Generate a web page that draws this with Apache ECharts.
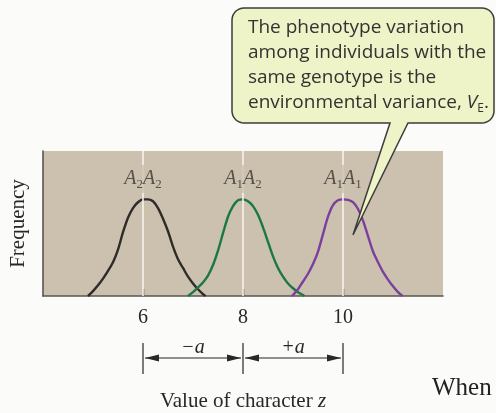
<!DOCTYPE html>
<html>
<head>
<meta charset="utf-8">
<script src="https://cdn.jsdelivr.net/npm/echarts@6/dist/echarts.min.js"></script>
<style>
  html, body { margin: 0; padding: 0; background: #fbfbfa; }
  #chart { width: 496px; height: 413px; }
</style>
</head>
<body>
<div id="chart"></div>
<script>
// Tick values on the character axis
const xTicks = [6, 8, 10];
const tickLabels = ['6', '8', '10'];

// Genotype names (allele, subscript, allele, subscript)
const genotypes = [['A', '2', 'A', '2'], ['A', '1', 'A', '2'], ['A', '1', 'A', '1']];
const genotypeMeans = [6, 8, 10];

// Frequency curves, [value of z, relative frequency]
const curveA2A2 = [[4.9, 0], [5.0, 0.05], [5.1, 0.11], [5.2, 0.18], [5.3, 0.26], [5.4, 0.35], [5.5, 0.48], [5.6, 0.66], [5.7, 0.81], [5.8, 0.91], [5.9, 0.97], [6.0, 1.0], [6.1, 1.0], [6.2, 0.98], [6.3, 0.91], [6.4, 0.8], [6.5, 0.67], [6.6, 0.51], [6.7, 0.38], [6.8, 0.29], [6.9, 0.2], [7.0, 0.13], [7.1, 0.07], [7.2, 0.02], [7.25, 0]];
const curveA1A2 = [[6.9, 0], [7.0, 0.04], [7.1, 0.09], [7.2, 0.14], [7.3, 0.21], [7.4, 0.32], [7.5, 0.47], [7.6, 0.65], [7.7, 0.82], [7.8, 0.93], [7.9, 0.99], [8.0, 1.0], [8.1, 0.98], [8.2, 0.93], [8.3, 0.84], [8.4, 0.71], [8.5, 0.56], [8.6, 0.41], [8.7, 0.29], [8.8, 0.2], [8.9, 0.13], [9.0, 0.08], [9.1, 0.04], [9.2, 0.01], [9.23, 0]];
const curveA1A1 = [[8.98, 0], [9.1, 0.07], [9.2, 0.15], [9.3, 0.23], [9.4, 0.33], [9.5, 0.46], [9.6, 0.64], [9.7, 0.82], [9.8, 0.94], [9.9, 0.99], [10.0, 1.0], [10.1, 0.995], [10.2, 0.97], [10.3, 0.9], [10.4, 0.78], [10.5, 0.62], [10.6, 0.46], [10.7, 0.35], [10.8, 0.25], [10.9, 0.17], [11.0, 0.1], [11.1, 0.04], [11.19, 0]];

const curves = [curveA2A2, curveA1A2, curveA1A1];
const curveColors = ['#2e2b29', '#1c7842', '#7b3f9e'];

const chart = echarts.init(document.getElementById('chart'));

const tan = '#cbc1ae';
const ink = '#2a2725';

function genotypeText(g) {
  return '{a|' + g[0] + '}{s|' + g[1] + '}{a|' + g[2] + '}{s|' + g[3] + '}';
}

const series = curves.map((c, i) => ({
  type: 'line',
  data: c,
  smooth: 0.3,
  symbol: 'none',
  clip: true,
  z: 4,
  lineStyle: { color: curveColors[i], width: 2.4 }
}));

// white reference lines at the genotype means
series.push({
  type: 'line',
  data: [],
  markLine: {
    silent: true,
    symbol: 'none',
    label: { show: false },
    lineStyle: { color: '#f6f3ec', width: 1.6, type: 'solid' },
    data: genotypeMeans.map(m => [{ coord: [m, 0] }, { coord: [m, 1.5] }])
  },
  z: 2
});

// genotype labels above each curve
series.push({
  type: 'scatter',
  symbolSize: 1,
  itemStyle: { color: 'rgba(0,0,0,0)' },
  z: 5,
  data: genotypeMeans.map((m, i) => ({ value: [m, 1.21], name: genotypeText(genotypes[i]) })),
  label: {
    show: true,
    position: 'inside',
    formatter: p => p.name,
    backgroundColor: tan,
    padding: [2, 3, 2, 3],
    rich: {
      a: { fontFamily: 'Liberation Serif', fontStyle: 'italic', fontSize: 20, color: '#3a3532', lineHeight: 24, verticalAlign: 'middle' },
      s: { fontFamily: 'Liberation Serif', fontSize: 13, color: '#3a3532', lineHeight: 24, verticalAlign: 'bottom' }
    }
  }
});

chart.setOption({
  backgroundColor: '#fbfbfa',
  animation: false,
  grid: { left: 40, top: 151, right: 53, bottom: 110, show: true, backgroundColor: tan, borderWidth: 0 },
  xAxis: {
    type: 'value',
    min: 4,
    max: 12,
    interval: 2,
    axisLine: { show: true, onZero: false, lineStyle: { color: '#5a5652', width: 1.6 } },
    axisTick: { show: true, inside: true, length: 7, customValues: xTicks, lineStyle: { color: '#4a4643', width: 1.4 } },
    axisLabel: {
      customValues: xTicks,
      formatter: v => tickLabels[xTicks.indexOf(v)] || '',
      fontFamily: 'Liberation Serif', fontSize: 20, color: ink, margin: 12
    },
    splitLine: { show: false },
    name: '{t|Value of character }{z|z}',
    nameLocation: 'middle',
    nameGap: 95,
    nameTextStyle: {
      rich: {
        t: { fontFamily: 'Liberation Serif', fontSize: 21, color: ink },
        z: { fontFamily: 'Liberation Serif', fontStyle: 'italic', fontSize: 21, color: ink }
      }
    }
  },
  yAxis: {
    type: 'value',
    min: 0,
    max: 1.5,
    axisLine: { show: true, lineStyle: { color: '#5a5652', width: 1.6 } },
    axisTick: { show: false },
    axisLabel: { show: false },
    splitLine: { show: false },
    name: 'Frequency',
    nameLocation: 'middle',
    nameGap: 14,
    nameTextStyle: { fontFamily: 'Liberation Serif', fontSize: 21, color: ink }
  },
  series: series
});

// bracket arrows beneath the axis, placed from the axis scale
const px = xTicks.map(v => chart.convertToPixel({ gridIndex: 0 }, [v, 0])[0]);
const arrowY = 358;
const els = [];

px.forEach(x => {
  els.push({ type: 'line', shape: { x1: x, y1: 343, x2: x, y2: 374 }, style: { stroke: ink, lineWidth: 1.2 } });
});

function arrowHead(xTip, dir) {
  return {
    type: 'polygon',
    shape: { points: [[xTip, arrowY], [xTip - dir * 14, arrowY - 3.4], [xTip - dir * 14, arrowY + 3.4]] },
    style: { fill: ink }
  };
}

for (let i = 0; i < px.length - 1; i++) {
  const a = px[i] + 2, b = px[i + 1] - 2;
  els.push({ type: 'line', shape: { x1: a, y1: arrowY, x2: b, y2: arrowY }, style: { stroke: ink, lineWidth: 1.2 } });
  els.push(arrowHead(a, -1));
  els.push(arrowHead(b, 1));
}

const spanLabels = ['\u2212a', '+a'];
for (let i = 0; i < px.length - 1; i++) {
  els.push({
    type: 'text',
    x: (px[i] + px[i + 1]) / 2,
    y: 348,
    style: {
      text: spanLabels[i],
      fontFamily: 'Liberation Serif', fontStyle: 'italic', fontSize: 20, fill: ink,
      align: 'center', verticalAlign: 'middle'
    }
  });
}

// speech bubble outline: rounded box with a wedge pointing down at the curve
function roundedCorner(cx, cy, r, a0, a1, out) {
  const n = 8;
  for (let k = 0; k <= n; k++) {
    const t = a0 + (a1 - a0) * k / n;
    out.push([cx + r * Math.cos(t), cy + r * Math.sin(t)]);
  }
}
const bx0 = 232, by0 = 8, bx1 = 494, by1 = 123, br = 12;
const bubble = [];
roundedCorner(bx0 + br, by0 + br, br, Math.PI, 1.5 * Math.PI, bubble);
roundedCorner(bx1 - br, by0 + br, br, 1.5 * Math.PI, 2 * Math.PI, bubble);
roundedCorner(bx1 - br, by1 - br, br, 0, 0.5 * Math.PI, bubble);
bubble.push([408, by1], [353, 235], [390, by1]);
roundedCorner(bx0 + br, by1 - br, br, 0.5 * Math.PI, Math.PI, bubble);

els.push({
  type: 'polygon',
  shape: { points: bubble },
  style: { fill: '#eef3c8', stroke: '#3c3c3a', lineWidth: 1.5 },
  z: 10
});

const calloutLines = [
  'The phenotype variation',
  'among individuals with the',
  'same genotype is the',
  'environmental variance, {v|V}{e|E}.'
];
els.push({
  type: 'text',
  x: 248,
  y: 15,
  z: 11,
  style: {
    text: calloutLines.join('\n'),
    fontFamily: 'Open Sans', fontSize: 19, lineHeight: 25, fill: '#333331',
    rich: {
      v: { fontFamily: 'Open Sans', fontStyle: 'italic', fontSize: 19, fill: '#333331', lineHeight: 25 },
      e: { fontFamily: 'Open Sans', fontSize: 12, fill: '#333331', lineHeight: 25, verticalAlign: 'bottom' }
    }
  }
});

// running text of the page, cut at the right margin
els.push({
  type: 'text',
  x: 432,
  y: 376,
  style: { text: 'When', fontFamily: 'Liberation Serif', fontSize: 25, fill: '#222' }
});

chart.setOption({ graphic: { elements: els } });
</script>
</body>
</html>
